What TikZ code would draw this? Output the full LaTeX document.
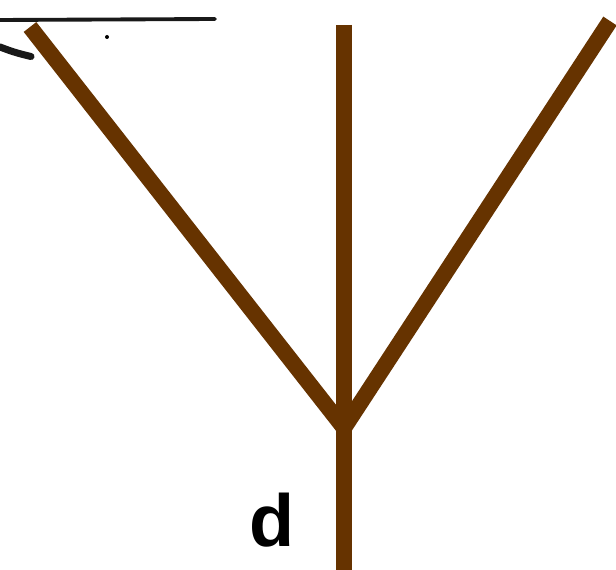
\documentclass[tikz,border=0pt]{standalone}
\usepackage{fontspec}
\setmainfont{Liberation Sans}
\usepackage{tikz}
\definecolor{branchbrown}{HTML}{663300}
\tikzset{
  branch/.style={line width=0.32cm, draw=branchbrown, line cap=butt, line join=miter},
  scanmark/.style={line width=2.2pt, draw=black!90, line cap=round},
  forklabel/.style={font=\bfseries\fontsize{42}{42}\selectfont, inner sep=0pt},
}
\begin{document}
\begin{tikzpicture}
\useasboundingbox (0,0) rectangle (12.32,11.40);
\fill[white] (0,0) rectangle (12.32,11.40);
\coordinate (fork) at (6.880,2.840);
\coordinate (lefttop) at (0.600,10.860);
\coordinate (righttop) at (12.200,10.980);
\coordinate (stemtop) at (6.880,10.900);
\coordinate (stembot) at (6.880,-0.100);
\coordinate (scanA) at (0.000,11.000);
\coordinate (scanB) at (4.300,11.020);
\coordinate (scanC) at (0.000,10.460);
\coordinate (scanD) at (0.620,10.270);
\draw[scanmark] (scanA) -- (scanB);
\draw[scanmark, line width=4pt] (scanC) to[bend right=4] (scanD);
\fill[black] (2.140,10.660) circle (0.04);
\draw[branch] (stemtop) -- (stembot);
\draw[branch] (lefttop) -- (fork);
\draw[branch] (righttop) -- (fork);
\node[forklabel] (dlabel) at (5.440,1.000) {d};
\end{tikzpicture}
\end{document}
